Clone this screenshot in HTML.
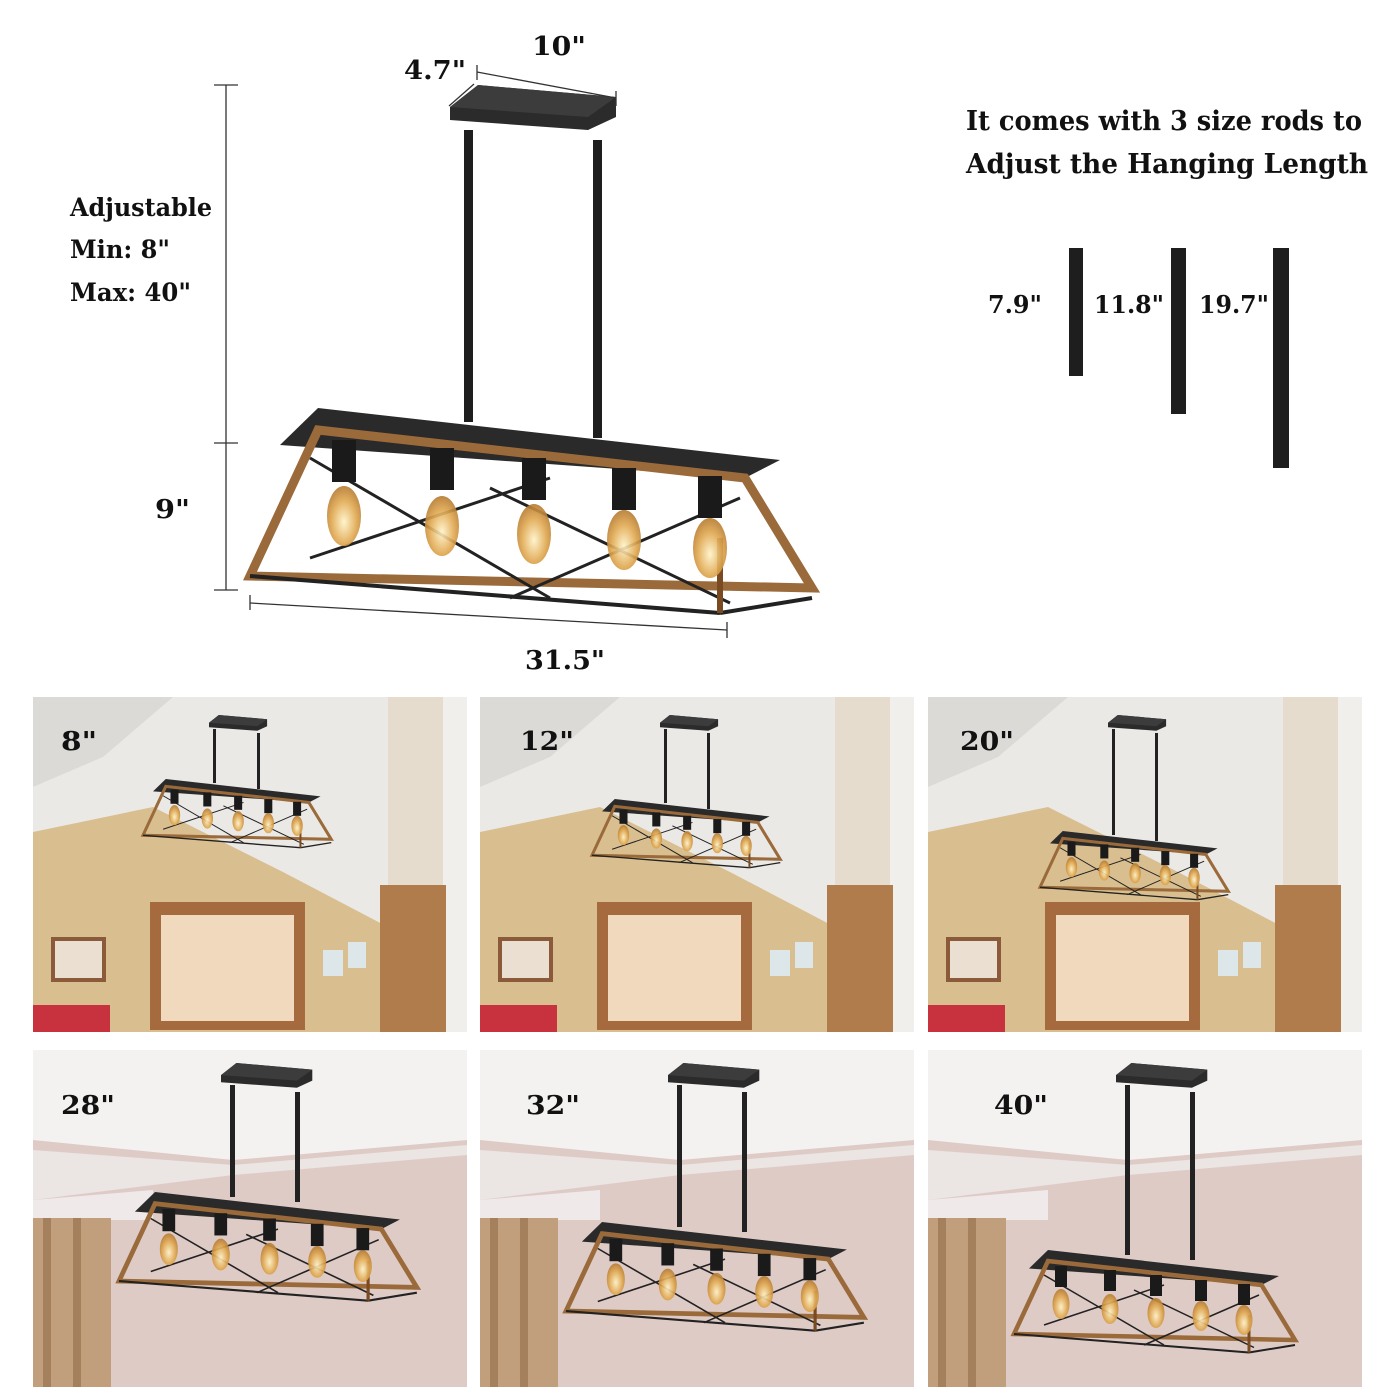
<!DOCTYPE html>
<html><head><meta charset="utf-8"><style>
html,body{margin:0;padding:0;background:#fff;}
svg{display:block;}
text{font-family:"DejaVu Serif","Liberation Serif",serif;font-weight:bold;fill:#111;}
</style></head><body>
<svg width="1400" height="1400" viewBox="0 0 1400 1400" xmlns="http://www.w3.org/2000/svg">
<defs>
<radialGradient id="bulb" cx="50%" cy="60%" r="60%"><stop offset="0" stop-color="#fff3c8"/><stop offset="0.6" stop-color="#e0a850"/><stop offset="1" stop-color="#b57a30"/></radialGradient>
<g id="frame">
  <polygon points="30,37 68,0 530,52 495,70" fill="#2a2a2a"/>
  <polygon points="68,22 495,70 562,180 0,168" fill="none" stroke="#9a6a3a" stroke-width="9"/>
  <line x1="60" y1="50" x2="300" y2="190" stroke="#222" stroke-width="3"/>
  <line x1="60" y1="150" x2="300" y2="70" stroke="#222" stroke-width="3"/>
  <line x1="240" y1="80" x2="480" y2="195" stroke="#222" stroke-width="3"/>
  <line x1="260" y1="190" x2="490" y2="90" stroke="#222" stroke-width="3"/>
  <line x1="0" y1="168" x2="470" y2="205" stroke="#222" stroke-width="4"/>
  <line x1="470" y1="205" x2="562" y2="190" stroke="#222" stroke-width="4"/>
  <line x1="470" y1="130" x2="470" y2="205" stroke="#7a4a20" stroke-width="6"/>
  <g fill="#1a1a1a">
    <rect x="82" y="32" width="24" height="42"/><rect x="180" y="40" width="24" height="42"/><rect x="272" y="50" width="24" height="42"/><rect x="362" y="60" width="24" height="42"/><rect x="448" y="68" width="24" height="42"/>
  </g>
  <g fill="url(#bulb)" opacity="0.9">
    <ellipse cx="94" cy="108" rx="17" ry="30"/><ellipse cx="192" cy="118" rx="17" ry="30"/><ellipse cx="284" cy="126" rx="17" ry="30"/><ellipse cx="374" cy="132" rx="17" ry="30"/><ellipse cx="460" cy="140" rx="17" ry="30"/>
  </g>
</g>
<g id="canopy">
  <polygon points="0,22 28,0 166,12 166,32 138,45 0,35" fill="#2b2b2b"/>
  <polygon points="0,22 28,0 166,12 138,32" fill="#3c3c3c"/>
</g>
<g id="p1bg">
  <rect x="0" y="0" width="434" height="335" fill="#ebe9e6"/>
  <polygon points="0,0 140,0 70,60 0,90" fill="#dcdad7"/>
  <polygon points="0,135 120,110 250,175 355,230 355,335 0,335" fill="#d9bf90"/>
  <rect x="355" y="0" width="55" height="335" fill="#e6dccd"/>
  <rect x="410" y="0" width="24" height="335" fill="#f1efec"/>
  <rect x="347" y="188" width="66" height="147" fill="#b07c4c"/>
  <rect x="117" y="205" width="155" height="128" fill="#a56a3e"/>
  <rect x="128" y="218" width="133" height="106" fill="#f0d9bd"/>
  <rect x="18" y="240" width="55" height="45" fill="#8a5a3a"/><rect x="22" y="244" width="47" height="37" fill="#eadfd0"/>
  <rect x="0" y="308" width="77" height="27" fill="#c8323e"/>
  <rect x="290" y="253" width="20" height="26" fill="#dde6e8"/><rect x="315" y="245" width="18" height="26" fill="#dde6e8"/>
</g>
<g id="p2bg">
  <rect x="0" y="0" width="434" height="337" fill="#dfcbc6"/>
  <polygon points="0,0 434,0 434,90 200,110 0,90" fill="#f4f2f1"/>
  <polygon points="0,100 200,115 434,95 434,105 200,125 0,150" fill="#ebe5e3"/>
  <polygon points="0,150 120,140 120,170 0,170" fill="#efeae9"/>
  <rect x="0" y="168" width="78" height="169" fill="#c29f7c"/>
  <rect x="10" y="168" width="8" height="169" fill="#a5805d"/><rect x="40" y="168" width="8" height="169" fill="#a5805d"/>
</g>
</defs>

<use href="#canopy" x="450" y="85"/>
<rect x="464" y="130" width="9" height="292" fill="#1e1e1e"/>
<rect x="593" y="140" width="9" height="298" fill="#1e1e1e"/>
<use href="#frame" x="250" y="408"/>

<g stroke="#333" stroke-width="1.3" fill="none">
<line x1="226" y1="85" x2="226" y2="590"/><line x1="214" y1="85" x2="238" y2="85"/><line x1="214" y1="443" x2="238" y2="443"/><line x1="214" y1="590" x2="238" y2="590"/>
<line x1="250" y1="603" x2="727" y2="630"/><line x1="250" y1="595" x2="250" y2="610"/><line x1="727" y1="622" x2="727" y2="638"/>
<line x1="477" y1="72" x2="616" y2="98"/><line x1="477" y1="65" x2="477" y2="80"/><line x1="616" y1="91" x2="616" y2="106"/>
<line x1="449" y1="106" x2="474" y2="84"/>
</g>
<g lengthAdjust="spacingAndGlyphs">
<text x="532" y="55" font-size="26" textLength="54" lengthAdjust="spacingAndGlyphs">10"</text>
<text x="404" y="79" font-size="26" textLength="62" lengthAdjust="spacingAndGlyphs">4.7"</text>
<text x="70" y="216" font-size="25" textLength="142" lengthAdjust="spacingAndGlyphs">Adjustable</text>
<text x="70" y="258" font-size="25" textLength="100" lengthAdjust="spacingAndGlyphs">Min: 8"</text>
<text x="70" y="301" font-size="25" textLength="121" lengthAdjust="spacingAndGlyphs">Max: 40"</text>
<text x="155" y="518" font-size="26" textLength="35" lengthAdjust="spacingAndGlyphs">9"</text>
<text x="525" y="669" font-size="26" textLength="80" lengthAdjust="spacingAndGlyphs">31.5"</text>
<text x="966" y="130" font-size="27" textLength="396" lengthAdjust="spacingAndGlyphs">It comes with 3 size rods to</text>
<text x="966" y="173" font-size="27" textLength="402" lengthAdjust="spacingAndGlyphs">Adjust the Hanging Length</text>
<text x="988" y="313" font-size="24" textLength="54" lengthAdjust="spacingAndGlyphs">7.9"</text>
<text x="1094" y="313" font-size="24" textLength="70" lengthAdjust="spacingAndGlyphs">11.8"</text>
<text x="1199" y="313" font-size="24" textLength="70" lengthAdjust="spacingAndGlyphs">19.7"</text>
</g>
<rect x="1069" y="248" width="14" height="128" fill="#1e1e1e"/>
<rect x="1171" y="248" width="15" height="166" fill="#1e1e1e"/>
<rect x="1273" y="248" width="16" height="220" fill="#1e1e1e"/>

<g transform="translate(33,697)"><use href="#p1bg"/>
  <use href="#canopy" transform="translate(176,18) scale(0.35)"/>
  <rect x="180" y="32" width="3" height="54" fill="#222"/><rect x="224" y="36" width="3" height="56" fill="#222"/>
  <use href="#frame" transform="translate(110,82) scale(0.335)"/>
  <text x="28" y="53" font-size="26" textLength="36" lengthAdjust="spacingAndGlyphs">8"</text></g>
<g transform="translate(480,697)"><use href="#p1bg"/>
  <use href="#canopy" transform="translate(180,18) scale(0.35)"/>
  <rect x="184" y="32" width="3" height="74" fill="#222"/><rect x="227" y="36" width="3" height="76" fill="#222"/>
  <use href="#frame" transform="translate(112,102) scale(0.335)"/>
  <text x="40" y="53" font-size="26" textLength="54" lengthAdjust="spacingAndGlyphs">12"</text></g>
<g transform="translate(928,697)"><use href="#p1bg"/>
  <use href="#canopy" transform="translate(180,18) scale(0.35)"/>
  <rect x="184" y="32" width="3" height="106" fill="#222"/><rect x="227" y="36" width="3" height="108" fill="#222"/>
  <use href="#frame" transform="translate(112,134) scale(0.335)"/>
  <text x="32" y="53" font-size="26" textLength="54" lengthAdjust="spacingAndGlyphs">20"</text></g>

<g transform="translate(33,1050)"><use href="#p2bg"/>
  <use href="#canopy" transform="translate(188,13) scale(0.55)"/>
  <rect x="197" y="35" width="5" height="112" fill="#222"/><rect x="262" y="42" width="5" height="110" fill="#222"/>
  <use href="#frame" transform="translate(86,142) scale(0.53)"/>
  <text x="28" y="64" font-size="26" textLength="54" lengthAdjust="spacingAndGlyphs">28"</text></g>
<g transform="translate(480,1050)"><use href="#p2bg"/>
  <use href="#canopy" transform="translate(188,13) scale(0.55)"/>
  <rect x="197" y="35" width="5" height="142" fill="#222"/><rect x="262" y="42" width="5" height="140" fill="#222"/>
  <use href="#frame" transform="translate(86,172) scale(0.53)"/>
  <text x="46" y="64" font-size="26" textLength="54" lengthAdjust="spacingAndGlyphs">32"</text></g>
<g transform="translate(928,1050)"><use href="#p2bg"/>
  <use href="#canopy" transform="translate(188,13) scale(0.55)"/>
  <rect x="197" y="35" width="5" height="170" fill="#222"/><rect x="262" y="42" width="5" height="168" fill="#222"/>
  <use href="#frame" transform="translate(86,200) scale(0.5)"/>
  <text x="66" y="64" font-size="26" textLength="54" lengthAdjust="spacingAndGlyphs">40"</text></g>
</svg>
</body></html>
